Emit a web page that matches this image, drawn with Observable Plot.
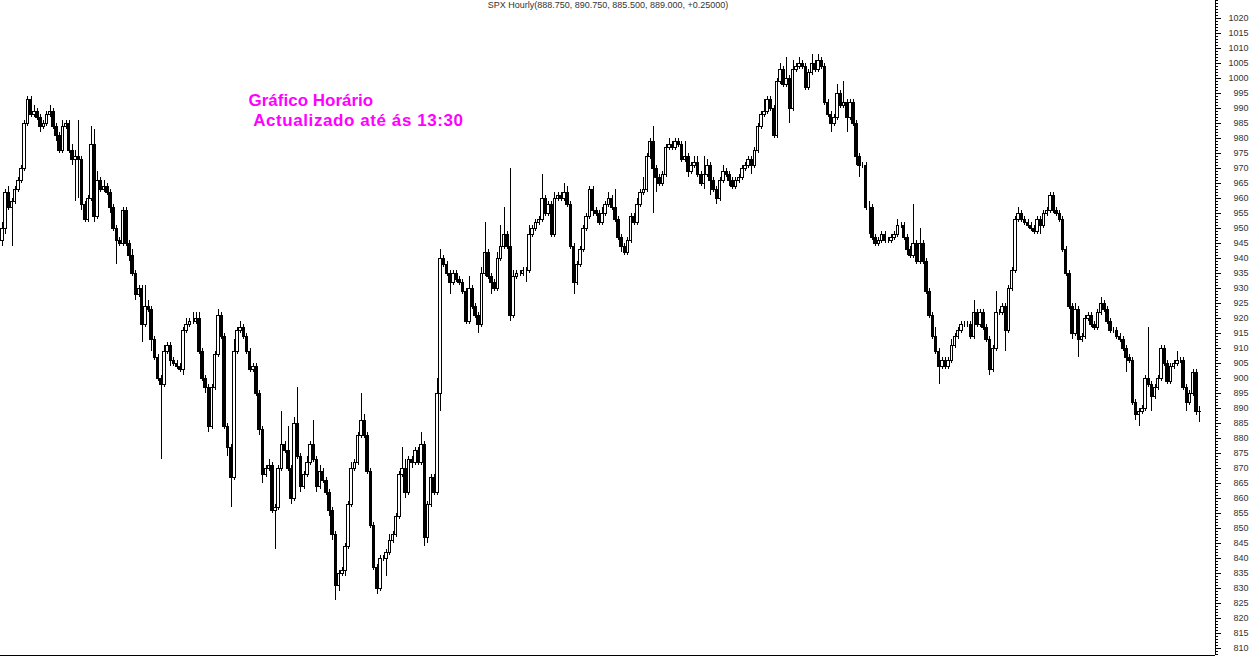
<!DOCTYPE html>
<html><head><meta charset="utf-8">
<script src="https://cdn.jsdelivr.net/npm/d3@7"></script>
<script src="https://cdn.jsdelivr.net/npm/@observablehq/plot@0.6"></script>
<style>html,body{margin:0;padding:0;background:#fff;overflow:hidden}</style>
</head><body><div id="chart"></div>
<script>
// ---- data ----
const seriesName = "SPX Hourly";
const firstOpen = 946;
const close = [
  // x 0-200
  950,962,957,959,963,966,970,985,993,988, 989,987,984,985,988,989,984,981,976,984,
  985,976,973,974,973,958,953,960,978,954, 966,963,964,962,957,950,946,945,956,945,
  941,935,928,930,918,924,923,913,907,900, 898,909,911,906,905,904,903,916,918,919,
  919,920,
  // x 200-400
  909,900,897,884,897,908,921,914,884,877, 867,909,916,917,914,909,903,904,895,883,
  868,870,871,856,857,870,878,876,870,860,885, 874,864,868,872,878,873,864,869,866,862,856,848,
  831,835,836,844,858,870,872,881,886,881, 869,851,837,830,840,840,842,846,848,854,
  868,870,
  // x 400-600
  862,873,872,876,872,878,847,858,867,862, 895,940,938,935,932,935,933,932,929,919,
  930,924,921,918,935,942,934,932,930,940, 944,948,944,921,934,935,935,936,936,948,950,
  952,953,960,955,958,948,960,961,960,962,958, 944,932,938,943,950,954,963,956,955,952,
  955,958,960,957,
  // x 600-800
  953,947,944,942,946,954,952,958,962, 963,974,979,970,967,965,968,977,978,977,
  979,978,973,974,969,971,972,968,965, 968,971,966,963,960,966,969,968,966,
  964,966,967,970,971,973,971,976,984, 988,989,993,990,981,999,1003,998,1000,990,
  1003,1004,1005,1004,
  // x 800-1000
  997,1002,1005,1003,1006,1004,992,988,985,987, 995,991,992,987,992,985,974,971,971,957,
  957,947,945,946,948,946,946,947,948,951, 951,947,943,941,945,939,945,939,929,921,
  914,909,904,906,904,906,911,914,916,918, 918,918,914,922,918,922,917,913,903,910,
  922,922,924,916,
  // x 1000-1200
  930,936,953,955,953,952,951,950,949,953, 951,955,956,961,956,955,953,943,935,924,
  915,923,913,914,920,921,918,917,922,925, 923,919,916,916,914,913,910,907,906,892,
  888,889,890,900,898,894,897,900,910,905, 899,904,905,906,906,897,892,895,902,888.75,
  889
];
// upper / lower shadow lengths (points beyond the candle body)
const wickUp = [
  2,1,2,1,1,1,1,1,1,1, 2,1,1,1,1,2,1,1,1,2, 1,1,2,2,12,1,1,1,6,5, 3,1,2,1,1,1,1,1,1,1,
  1,2,1,1,1,7,2,1,1,1, 1,2,1,1,1,1,1,1,2,1, 3,2,

  2,1,1,1,1,1,2,1,1,1, 1,4,1,2,1,1,1,1,1,1, 1,1,2,1,1,1,11,1,8,1,2, 12,1,1,2,1,8,1,2,1,1,1,1,
  1,1,1,1,1,2,1,1,9,2, 1,1,1,1,1,1,1,2,1,1, 1,7,

  3,1,1,1,1,4,1,1,1,1, 5,3,1,1,1,1,1,1,1,1, 4,1,1,1,2,10,1,1,1,2, 7,9,1,26,2,1,1,1,1,3,1,
  1,1,8,1,1,1,2,1,1,3,2, 1,1,1,1,1,1,1,1,1,1, 2,1,2,1,

  6,1,1,1,1,1,1,2,1, 4,1,1,5,1,1,1,1,2,1, 1,1,1,5,1,1,2,2,1, 6,2,1,1,1,1,2,1,1,
  1,1,1,1,1,1,1,1,1, 1,4,1,1,1,1,2,1,7,1, 3,1,2,1,

  1,1,3,1,2,1,1,1,1,1, 3,1,7,1,1,1,1,1,1,1, 2,1,1,1,1,1,1,1,1,2, 1,1,1,1,13,1,5,1,1,1,
  1,3,1,1,1,1,2,1,1,1, 1,1,1,4,1,1,1,1,1,1, 7,1,1,1,

  1,1,1,2,1,1,1,1,1,1, 1,1,1,1,1,1,1,1,1,1, 1,2,1,1,1,1,1,1,1,2, 1,1,1,1,1,1,1,1,1,1,
  1,1,1,1,17,1,1,1,1,1, 1,1,1,3,1,1,1,1,1,1, 1.75
];
const wickDown = [
  2,2,1,13,1,1,1,1,1,1, 1,1,2,1,1,1,1,2,1,1, 1,1,2,14,13,2,1,1,1,2, 1,1,1,1,2,1,8,1,1,1,
  2,1,2,1,6,1,1,4,1,1, 25,1,1,2,1,1,1,2,1,1, 1,1,

  1,1,2,2,1,1,1,1,1,3, 10,1,1,1,1,1,1,1,1,2, 3,1,1,1,13,1,1,1,1,2,1, 1,2,1,1,1,1,2,1,1,1,2,2,
  5,2,1,2,1,1,1,1,1,1, 1,1,1,2,1,1,6,1,1,1, 1,1,

  2,1,2,1,1,1,3,2,1,1, 1,6,1,1,4,1,1,1,1,1, 1,1,1,3,1,1,1,4,1,1, 1,1,1,2,1,1,1,1,4,1,1,
  1,1,1,1,1,1,1,1,1,1,1, 1,4,1,1,1,1,1,2,1,1, 1,1,1,1,

  1,1,2,1,1,1,1,1,1, 1,1,1,15,5,1,1,1,1,1, 1,1,1,1,2,1,1,1,1, 2,1,5,1,2,1,1,1,2,
  1,1,1,1,1,1,3,1,1, 1,1,1,1,1,1,1,1,1,5, 1,1,1,1,

  1,1,1,1,1,1,1,1,3,1, 1,1,1,5,1,1,3,4,1,1, 9,1,1,1,1,1,1,1,1,1, 1,1,2,1,1,1,1,1,1,1,
  1,1,6,1,1,1,1,1,1,1, 1,1,1,1,1,1,1,1,2,1, 1,1,1,7,

  1,1,1,1,1,1,1,1,1,1, 3,1,1,1,1,1,1,1,1,1, 2,1,6,1,1,1,1,1,1,1, 1,1,1,1,1,1,1,5,1,1,
  2,4,1,1,1,5,1,1,1,1, 1,1,1,1,1,1,3,1,1,1, 3.25
];
const majorTicks = d3.range(810, 1021, 5);
const minorTicks = d3.range(808, 1027, 1);
const noteLine1 = "Gráfico Horário";
const noteLine2 = " Actualizado até ás 13:30";

// ---- build candles ----
const bars = close.map((c, i) => {
  const o = i === 0 ? firstOpen : close[i - 1];
  return {i, o, c, h: Math.max(o, c) + wickUp[i], l: Math.min(o, c) - wickDown[i]};
});
if (wickUp.length !== close.length || wickDown.length !== close.length) console.error("length mismatch", close.length, wickUp.length, wickDown.length);
const N = bars.length;
const last = bars[N - 1];
const change = last.c - bars[N - 2].c;
const f3 = d3.format(".3f");
const title = `${seriesName}(${f3(last.o)}, ${f3(last.h)}, ${f3(last.l)}, ${f3(last.c)}, ${change >= 0 ? "+" : ""}${change.toFixed(5)})`;

const xMax = N + 4.04;
const yMin = 807.67;
const font = "'Liberation Sans', Arial, sans-serif";

const chart = Plot.plot({
  width: 1250, height: 656,
  marginLeft: 0, marginRight: 35, marginTop: 0, marginBottom: 1,
  x: {domain: [-0.63, xMax], axis: null},
  y: {domain: [yMin, 1026], axis: null},
  style: {fontFamily: font, background: "#fff", color: "#000"},
  marks: [
    Plot.ruleX(bars, {x: "i", y1: "l", y2: "h", stroke: "#000", strokeWidth: 1, shapeRendering: "crispEdges"}),
    Plot.rect(bars.filter(d => d.c >= d.o), {x1: d => d.i - 0.4, x2: d => d.i + 0.4, y1: "o", y2: "c", fill: "#fff", stroke: "#000", strokeWidth: 1, shapeRendering: "crispEdges"}),
    Plot.rect(bars.filter(d => d.c < d.o), {x1: d => d.i - 0.4, x2: d => d.i + 0.4, y1: "o", y2: "c", fill: "#000", stroke: "#000", strokeWidth: 1, shapeRendering: "crispEdges"}),
    Plot.ruleX([xMax], {stroke: "#000", strokeWidth: 1, shapeRendering: "crispEdges"}),
    Plot.ruleY([yMin], {x1: -0.63, x2: xMax, stroke: "#000", strokeWidth: 1, shapeRendering: "crispEdges"}),
    Plot.axisY({anchor: "right", ticks: minorTicks, tickSize: 2, tickFormat: () => "", stroke: "#000", shapeRendering: "crispEdges"}),
    Plot.axisY({anchor: "right", ticks: majorTicks, tickSize: 5, tickFormat: () => "", stroke: "#000", shapeRendering: "crispEdges"}),
    Plot.text(majorTicks, {y: d => d, text: d => String(d), frameAnchor: "right", textAnchor: "end", dx: 33, fontSize: 9, fill: "#333"}),
    Plot.text([title], {frameAnchor: "top", dy: 5, lineAnchor: "middle", fontSize: 9, fill: "#333"}),
    Plot.text([noteLine1], {frameAnchor: "top-left", dx: 248, dy: 100, textAnchor: "start", lineAnchor: "middle", fontSize: 17, fontWeight: "bold", fill: "#f0f"}),
    Plot.text([noteLine2], {frameAnchor: "top-left", dx: 248, dy: 120, textAnchor: "start", lineAnchor: "middle", fontSize: 17, fontWeight: "bold", fill: "#f0f"})
  ]
});
d3.select(chart).selectAll("text").each(function () {
  if (this.textContent === noteLine2) d3.select(this).style("white-space", "pre").style("letter-spacing", "0.58px");
});
document.getElementById("chart").appendChild(chart);
</script>
</body></html>
